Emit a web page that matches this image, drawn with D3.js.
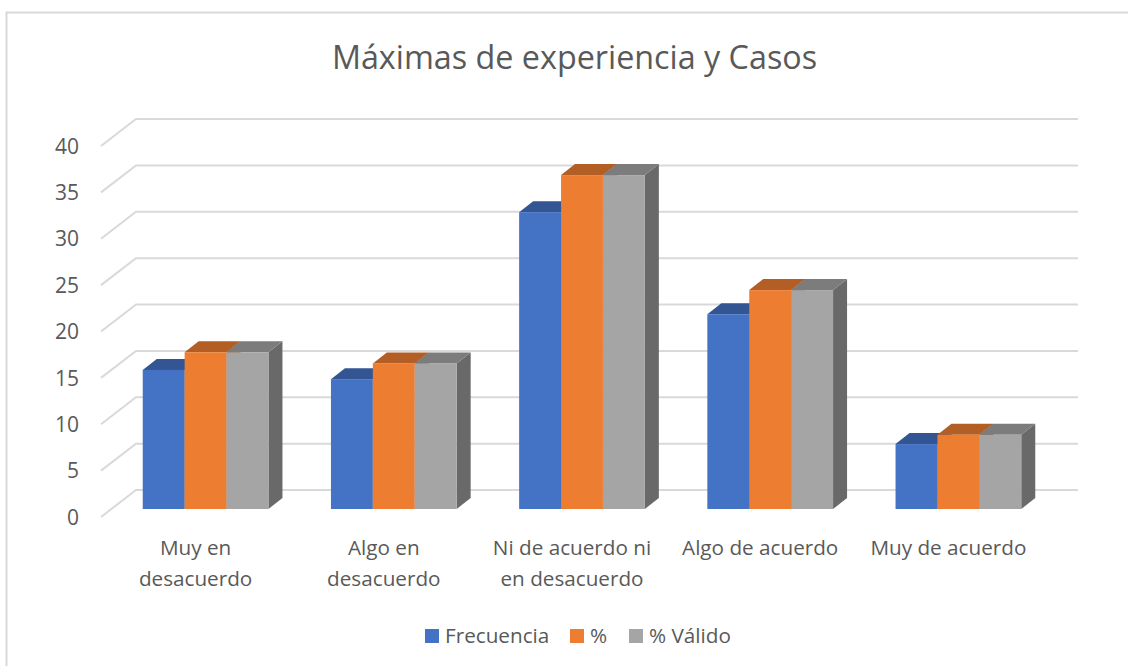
<!DOCTYPE html>
<html><head><meta charset="utf-8">
<script src="https://cdn.jsdelivr.net/npm/d3@7/dist/d3.min.js"></script>
<style>html,body{margin:0;padding:0;background:#fff}svg{display:block}text{font-family:"Open Sans",sans-serif;fill:#595959}</style>
</head><body><svg id="c" width="1128" height="666"></svg>
<script>
const title = "Máximas de experiencia y Casos";
const categories = ["Muy en desacuerdo","Algo en desacuerdo","Ni de acuerdo ni en desacuerdo","Algo de acuerdo","Muy de acuerdo"];
const categoryLines = [["Muy en","desacuerdo"],["Algo en","desacuerdo"],["Ni de acuerdo ni","en desacuerdo"],["Algo de acuerdo"],["Muy de acuerdo"]];
const seriesNames = ["Frecuencia","%","% Válido"];
const frecuencia = [15,14,32,21,7];
const porcentaje = [16.9,15.7,36,23.6,8];
const porcentajeValido = [16.9,15.7,36,23.6,8];
const yTicks = [0,5,10,15,20,25,30,35,40];
const frontColors = ["#4472c4","#ed7d31","#a5a5a5"];
const topColors = ["#335593","#b25e24","#7c7c7c"];
const sideColors = ["#2d4b82","#9c5220","#696969"];

const svg = d3.select("#c");
const series = [frecuencia, porcentaje, porcentajeValido];
const depthX = 14, depthY = 11;
const y = d3.scaleLinear().domain([0,40]).range([509,138]);
const x = d3.scaleBand().domain(categories).range([111.5,1052.5]).paddingInner(0.332).paddingOuter(0.166);
const x1 = d3.scaleBand().domain(seriesNames).range([0,x.bandwidth()]);

// chart frame
svg.append("path").attr("d","M1128,12.5H6.5V666").attr("fill","none").attr("stroke","#d9d9d9").attr("stroke-width",2);

// gridlines: back wall + left wall
const backOffset = -19, wallX = 35, wallY = 27, backLeft = 136, backRight = 1078;
const grid = svg.append("g").attr("stroke","#d9d9d9").attr("stroke-width",2).attr("fill","none");
grid.selectAll("path").data(yTicks).join("path")
  .attr("d",t=>`M${backLeft-wallX},${y(t)+backOffset+wallY}L${backLeft},${y(t)+backOffset}H${backRight}`);

// y axis labels
const yAxis = d3.axisLeft(y).tickValues(yTicks).tickSize(0).tickPadding(0);
const ga = svg.append("g").attr("transform","translate(79,8.5)").call(yAxis);
ga.select(".domain").remove();
ga.selectAll("text").attr("font-size",21).attr("fill","#595959").style("font-family",'"Open Sans",sans-serif');

// 3D bars
const groups = svg.append("g").selectAll("g").data(categories).join("g")
  .attr("transform",c=>`translate(${x(c)},0)`);
groups.each(function(c,ci){
  const g = d3.select(this);
  seriesNames.forEach((s,si)=>{
    const v = series[si][ci], l = x1(s), r = l + x1.bandwidth(), t = y(v), b = y(0);
    g.append("path").attr("fill",sideColors[si])
      .attr("d",`M${r},${t}l${depthX},${-depthY}V${b-depthY}L${r},${b}Z`);
    g.append("path").attr("fill",topColors[si])
      .attr("d",`M${l},${t}l${depthX},${-depthY}H${r+depthX}L${r},${t}Z`);
    g.append("rect").attr("x",l).attr("y",t).attr("width",r-l).attr("height",b-t).attr("fill",frontColors[si]);
  });
});

// category labels
const labelShift = -10;
const cat = svg.append("g").attr("text-anchor","middle").attr("font-size",20.7);
categories.forEach((c,i)=>{
  const cx = x(c)+x.bandwidth()/2+labelShift;
  const t = cat.append("text").attr("x",cx).attr("y",555);
  categoryLines[i].forEach((ln,j)=>t.append("tspan").attr("x",cx).attr("dy",j?31:0).text(ln));
});

// title
svg.append("text").attr("x",574.5).attr("y",69).attr("text-anchor","middle").attr("font-size",32.3).text(title);

// legend
const legendX = [425,570,629];
const lg = svg.append("g").selectAll("g").data(seriesNames).join("g")
  .attr("transform",(d,i)=>`translate(${legendX[i]},629)`);
lg.append("rect").attr("width",14).attr("height",14).attr("fill",(d,i)=>frontColors[i]);
lg.append("text").attr("x",20).attr("y",14).attr("font-size",20.7).text(d=>d);
</script></body></html>
